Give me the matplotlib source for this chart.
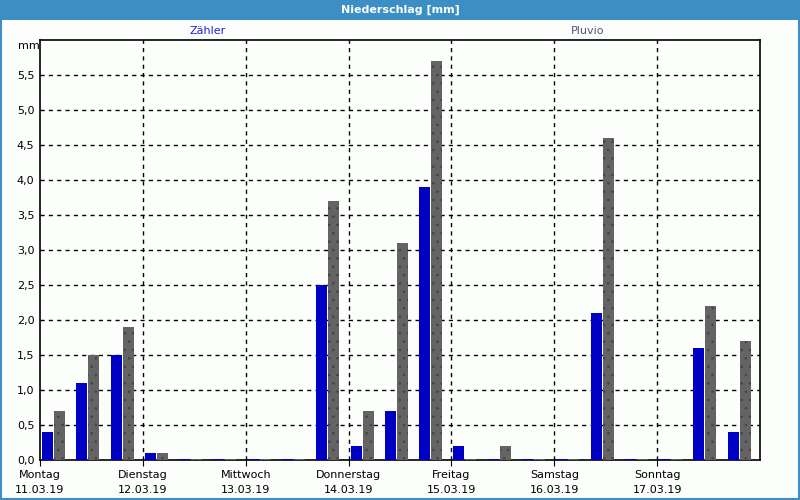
import numpy as np
import matplotlib
matplotlib.use('Agg')
import matplotlib.pyplot as plt
from matplotlib.patches import Rectangle

# 8-hour slots, 3 per day, Montag 11.03.19 .. Sonntag 17.03.19
zaehler = [0.4, 1.1, 1.5, 0.1, 0.02, 0.02, 0.02,
           0.02, 2.5, 0.2, 0.7, 3.9, 0.2, 0.02,
           0.02, 0.02, 2.1, 0.02, 0.02, 1.6, 0.4]
pluvio = [0.7, 1.5, 1.9, 0.1, 0.02, 0.02, 0.02,
          0.02, 3.7, 0.7, 3.1, 5.7, 0.02, 0.2,
          0.02, 0.02, 4.6, 0.02, 0.02, 2.2, 1.7]
days = ['Montag', 'Dienstag', 'Mittwoch', 'Donnerstag', 'Freitag', 'Samstag', 'Sonntag']
dates = ['11.03.19', '12.03.19', '13.03.19', '14.03.19', '15.03.19', '16.03.19', '17.03.19']
yticks = [0.0, 0.5, 1.0, 1.5, 2.0, 2.5, 3.0, 3.5, 4.0, 4.5, 5.0, 5.5]

plt.rcParams['font.family'] = ['DejaVu Sans']
plt.rcParams['hatch.linewidth'] = 0.6

fig = plt.figure(figsize=(8, 5), dpi=100, facecolor='#fcfefc')

# title bar and window border
fig.patches.append(Rectangle((0, 0.96), 1, 0.04, transform=fig.transFigure,
                             facecolor='#3c8fc4', edgecolor='none', zorder=0))
fig.patches.append(Rectangle((0.001, 0.002), 0.998, 0.996, transform=fig.transFigure,
                             facecolor='none', edgecolor='#3c8fc4', lw=1.5, zorder=0))
fig.text(0.5, 0.98, 'Niederschlag [mm]', color='white', fontweight='bold',
         fontsize=8, ha='center', va='center')
fig.text(208 / 800, 1 - 31 / 500, 'Zähler', color='#2222dd', fontsize=8,
         ha='center', va='center')
fig.text(588 / 800, 1 - 31 / 500, 'Pluvio', color='#55557a', fontsize=8,
         ha='center', va='center')

ax = fig.add_axes([40 / 800, 40 / 500, 720 / 800, 420 / 500])
ax.set_facecolor('#fcfefc')

x = np.arange(len(zaehler))
ax.bar(x + 0.06, zaehler, width=0.32, align='edge', color='#0000c4', lw=0, zorder=3)
ax.bar(x + 0.41, pluvio, width=0.32, align='edge', color='#646464',
       edgecolor='#444444', hatch='..', lw=0, zorder=3)

ax.set_xlim(0, 21)
ax.set_ylim(0, 6.0)

ax.set_yticks(yticks)
ax.set_yticklabels([f'{v:.1f}'.replace('.', ',') for v in yticks])
ax.set_xticks(np.arange(0, 21, 3))
ax.set_xticklabels([f'{d}\n{t}' for d, t in zip(days, dates)], linespacing=1.6)
ax.tick_params(axis='both', labelsize=8, color='black')
ax.tick_params(axis='y', length=0, pad=4)
ax.tick_params(axis='x', direction='out', length=4, pad=3)

for v in yticks[1:]:
    ax.axhline(v, color='black', lw=1, ls=(0, (3, 3)), zorder=1)
for d in range(3, 21, 3):
    ax.axvline(d, color='black', lw=1, ls=(0, (3, 3)), zorder=1)

for s in ax.spines.values():
    s.set_color('black')
    s.set_linewidth(1.2)

ax.text(-0.02, 6.0 - 0.09, 'mm', fontsize=8, ha='right', va='center')

fig.savefig('out.png', dpi=100, facecolor=fig.get_facecolor())
